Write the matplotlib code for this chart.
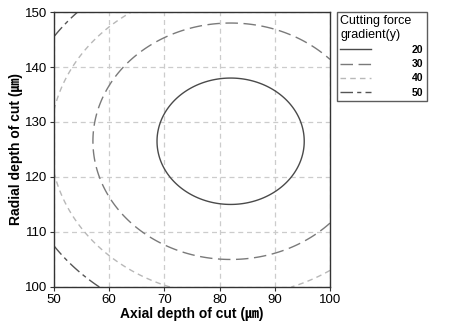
import numpy as np
import matplotlib
matplotlib.use("Agg")
import matplotlib.pyplot as plt
from matplotlib.lines import Line2D

# response surface for cutting force gradient (y):
# y = Z0 + KX*(axial - XC)^2 + KY*(radial - YC)^2
XC, YC = 82.0, 126.5
Z0 = 16.0
KX, KY = 0.0225, 0.0303

levels = [20, 30, 40, 50]
level_labels = ["20", "30", "40", "50"]
x_ticks = [50, 60, 70, 80, 90, 100]
y_ticks = [100, 110, 120, 130, 140, 150]

styles = {
    20: dict(color="#4a4a4a", ls="-", lw=1.0),
    30: dict(color="#7a7a7a", ls=(0, (9, 4)), lw=1.0),
    40: dict(color="#b8b8b8", ls=(0, (4, 3)), lw=1.0),
    50: dict(color="#555555", ls=(0, (9, 3, 3, 3)), lw=1.0),
}

fig = plt.figure(figsize=(4.71, 3.29), dpi=100)
ax = fig.add_axes([0.1146, 0.1277, 0.586, 0.8358])

xs = np.linspace(50, 100, 300)
ys = np.linspace(100, 150, 300)
X, Y = np.meshgrid(xs, ys)
Z = Z0 + KX * (X - XC) ** 2 + KY * (Y - YC) ** 2

for lv in levels:
    st = styles[lv]
    ax.contour(X, Y, Z, levels=[lv], colors=st["color"],
               linestyles=[st["ls"]], linewidths=st["lw"])

ax.set_xlim(50, 100)
ax.set_ylim(100, 150)
ax.set_xticks(x_ticks)
ax.set_yticks(y_ticks)
ax.grid(True, color="#cccccc", ls=(0, (4, 3)), lw=0.9)
ax.set_axisbelow(True)
for s in ax.spines.values():
    s.set_color("#333333")
    s.set_linewidth(1.0)
ax.tick_params(direction="out", length=3, width=0.8, color="#333333",
               labelsize=9.5, pad=2)
for t in ax.get_xticklabels() + ax.get_yticklabels():
    t.set_family("Liberation Sans")

lab_font = ["Liberation Sans", "Noto Sans CJK KR"]
ax.set_xlabel("Axial depth of cut (㎛)", family=lab_font, fontweight="bold",
              fontsize=10, labelpad=1)
ax.set_ylabel("Radial depth of cut (㎛)", family=lab_font, fontweight="bold",
              fontsize=10, labelpad=1)

handles = [Line2D([], [], color=styles[lv]["color"], ls=styles[lv]["ls"],
                  lw=styles[lv]["lw"]) for lv in levels]
leg = ax.legend(handles, level_labels, title="Cutting force\ngradient(y)",
                loc="upper left", bbox_to_anchor=(1.025, 1.0), borderaxespad=0,
                frameon=True, fancybox=False, edgecolor="#333333",
                handlelength=3.0, handletextpad=3.9, labelspacing=0.4,
                borderpad=0.3, prop=dict(family="Liberation Sans", weight="bold", size=7.5),
                title_fontproperties=dict(family="Liberation Sans", size=9))
leg._legend_box.align = "left"
leg.get_frame().set_linewidth(1.0)

fig.savefig("out.png", dpi=100, facecolor="white")
